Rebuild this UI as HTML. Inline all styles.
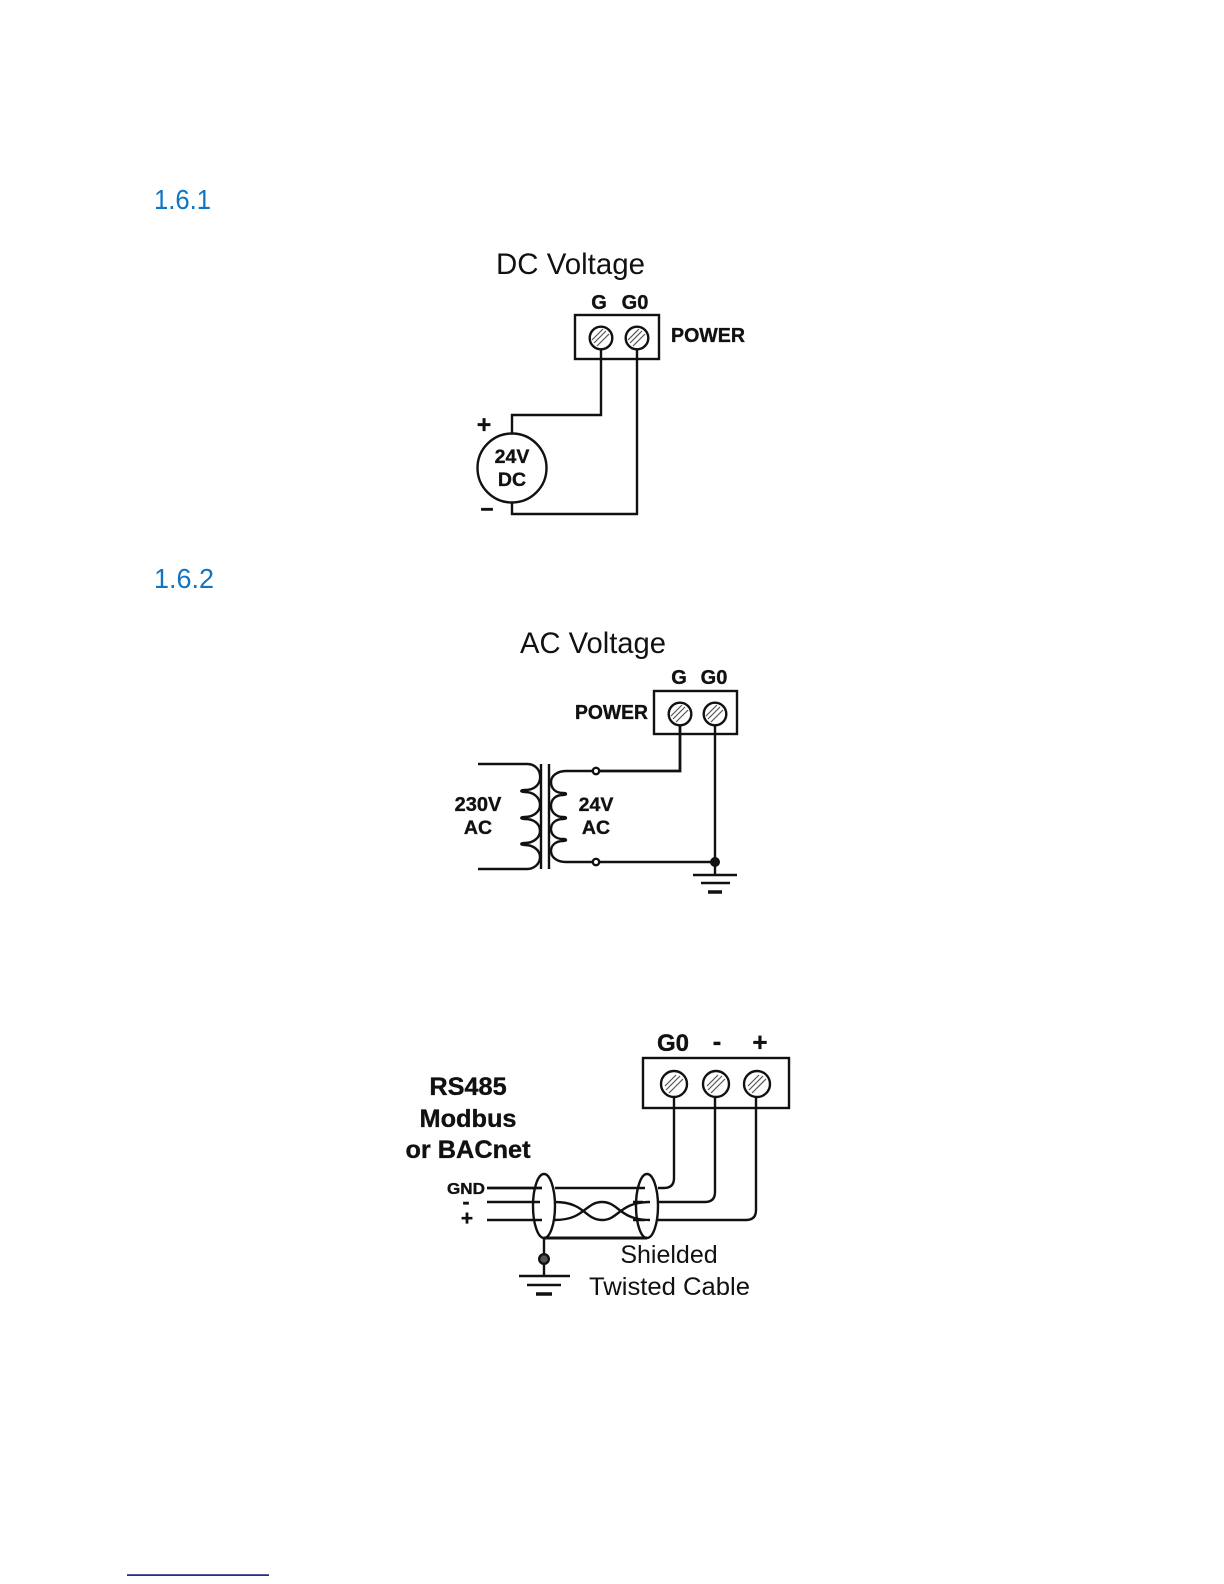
<!DOCTYPE html>
<html><head><meta charset="utf-8"><style>html,body{margin:0;padding:0;background:#fff}svg{display:block}
text{font-family:"Liberation Sans",sans-serif;fill:#111}
.b{font-weight:bold;text-anchor:middle;stroke:#111;stroke-width:.35}
.bl{font-weight:bold;stroke:#111;stroke-width:.35}
.w{fill:none;stroke:#111;stroke-width:2.4}
.s{fill:#fff;stroke:#111;stroke-width:2.4}
.h{stroke:#555;stroke-width:1.2}
</style></head><body>
<svg width="1224" height="1584" viewBox="0 0 1224 1584" xmlns="http://www.w3.org/2000/svg">
<rect width="1224" height="1584" fill="#fff"/>
<text x="154" y="209" font-size="28" textLength="57" lengthAdjust="spacingAndGlyphs" style="fill:#0f75c4">1.6.1</text>
<text x="154" y="588" font-size="28" textLength="60" lengthAdjust="spacingAndGlyphs" style="fill:#0f75c4">1.6.2</text>
<rect x="127" y="1574.3" width="142" height="1.6" fill="#14147a"/>

<!-- DC -->
<text x="496" y="274" font-size="30" textLength="149" lengthAdjust="spacingAndGlyphs">DC Voltage</text>
<text x="599" y="309" font-size="20" class="b">G</text>
<text x="635" y="309" font-size="20" class="b">G0</text>
<text x="671" y="342" font-size="20" class="bl" textLength="74" lengthAdjust="spacingAndGlyphs">POWER</text>
<rect x="575" y="315" width="84" height="44" class="w"/>
<path class="w" d="M601 349V415H512V433M512 503V514H637V349"/>
<circle cx="601" cy="338" r="11.3" class="s"/><path class="h" d="M594 343L606 331M597 346L609 334M592 340L603 329"/>
<circle cx="637" cy="338" r="11.3" class="s"/><path class="h" d="M630 343L642 331M633 346L645 334M628 340L639 329"/>
<circle cx="512" cy="468" r="34.5" class="s"/>
<text x="512" y="463" font-size="19.5" class="b">24V</text>
<text x="512" y="486" font-size="19.5" class="b">DC</text>
<text x="484" y="433" font-size="25" class="b">+</text>
<text x="487" y="517" font-size="23" class="b">−</text>

<!-- AC -->
<text x="520" y="653" font-size="30" textLength="146" lengthAdjust="spacingAndGlyphs">AC Voltage</text>
<text x="679" y="684" font-size="20" class="b">G</text>
<text x="714" y="684" font-size="20" class="b">G0</text>
<text x="575" y="719" font-size="20" class="bl" textLength="73" lengthAdjust="spacingAndGlyphs">POWER</text>
<rect x="654" y="691" width="83" height="43" class="w"/>
<path class="w" d="M680 725V771H599" style="stroke-width:2.8"/>
<path class="w" d="M715 725V875M599 862H715"/>
<circle cx="680" cy="714" r="11.3" class="s"/><path class="h" d="M673 719L685 707M676 722L688 710M671 716L682 705"/>
<circle cx="715" cy="714" r="11.3" class="s"/><path class="h" d="M708 719L720 707M711 722L723 710M706 716L717 705"/>
<path class="w" d="M478 764H527C536 764 541 771 540 779C539 786 533 790 525 790C520 790 520 792 525 792C533 792 540 797 540 805C540 812 533 817 525 817C520 817 520 819 525 819C533 819 540 823 540 831C540 838 533 843 525 843C520 843 520 845 525 845C533 845 540 850 540 857C540 864 534 869 527 869H478"/>
<path class="w" d="M541 764V869M549 764V869"/>
<path class="w" d="M593 771H566C557 771 551 776 551 782C551 789 556 793 563 793C567 793 567 795 563 795C556 795 551 799 551 806C551 812 556 817 563 817C567 817 567 819 563 819C556 819 551 823 551 829C551 835 556 839 563 839C567 839 567 841 563 841C556 841 551 845 551 851C551 858 558 862 566 862H593"/>
<circle cx="596" cy="771" r="3.2" class="s"/><circle cx="596" cy="862" r="3.2" class="s"/>
<circle cx="715" cy="862" r="5" fill="#111"/>
<path class="w" d="M693 875H737M701 883H730"/><path class="w" d="M708 892H722" style="stroke-width:3.5"/>
<text x="478" y="811" font-size="20" class="b">230V</text>
<text x="478" y="834" font-size="19.5" class="b">AC</text>
<text x="596" y="811" font-size="19.5" class="b">24V</text>
<text x="596" y="834" font-size="19.5" class="b">AC</text>

<!-- RS485 -->
<text x="673" y="1051" font-size="24" class="b">G0</text>
<text x="717" y="1050" font-size="26" class="b">-</text>
<text x="760" y="1051" font-size="26" class="b">+</text>
<rect x="643" y="1058" width="146" height="50" class="w"/>
<path class="w" d="M674 1097V1178Q674 1188 664 1188H658M715 1097V1192Q715 1202 705 1202H658M756 1097V1210Q756 1220 746 1220H658"/>
<circle cx="674" cy="1084" r="13" class="s"/><path class="h" d="M666 1090L680 1076M669 1093L683 1079M665 1086L676 1075"/>
<circle cx="716" cy="1084" r="13" class="s"/><path class="h" d="M708 1090L722 1076M711 1093L725 1079M707 1086L718 1075"/>
<circle cx="757" cy="1084" r="13" class="s"/><path class="h" d="M749 1090L763 1076M752 1093L766 1079M748 1086L759 1075"/>
<text x="468" y="1095" font-size="25.3" class="b">RS485</text>
<text x="468" y="1127" font-size="25.3" class="b">Modbus</text>
<text x="468" y="1158" font-size="25.3" class="b">or BACnet</text>
<text x="447" y="1194" font-size="16" class="bl" textLength="38" lengthAdjust="spacingAndGlyphs">GND</text>
<text x="466" y="1209" font-size="21" class="b">-</text>
<text x="467" y="1225" font-size="21" class="b">+</text>
<path class="w" d="M487 1188H542" style="stroke-width:2.8"/>
<path class="w" d="M487 1202H540M487 1220H542M555 1188H645M633 1202H643M633 1220H645"/>
<path class="w" d="M555 1202C585 1202 585 1220 602 1220C619 1220 619 1202 650 1202M555 1220C585 1220 585 1202 602 1202C619 1202 619 1220 650 1220"/>
<ellipse cx="544" cy="1206" rx="11" ry="32" class="w"/>
<ellipse cx="647" cy="1206" rx="11" ry="32" class="w"/>
<path class="w" d="M544 1238H647" style="stroke-width:3"/>
<path class="w" d="M544 1238V1276M519 1276H570M527 1285H561"/><path class="w" d="M536 1294H552" style="stroke-width:3.5"/>
<circle cx="544" cy="1259" r="4.8" fill="#555" stroke="#111" stroke-width="2.4"/>
<text x="669" y="1263" font-size="25" text-anchor="middle">Shielded</text>
<text x="589" y="1295" font-size="25" textLength="161" lengthAdjust="spacingAndGlyphs">Twisted Cable</text>
</svg>
</body></html>
